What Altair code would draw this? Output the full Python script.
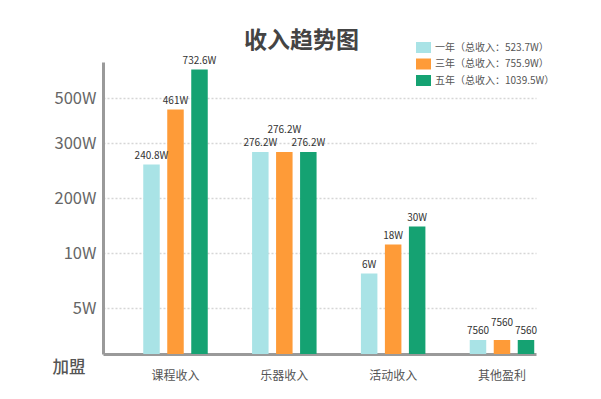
import altair as alt
import pandas as pd

FONT = "Noto Sans CJK SC"

categories = ["课程收入", "乐器收入", "活动收入", "其他盈利"]
series = ["一年", "三年", "五年"]
series_totals = ["523.7W", "755.9W", "1039.5W"]
colors = ["#A9E3E6", "#FE9B38", "#15A272"]

# text shown above each bar
labels_1 = ["240.8W", "276.2W", "6W", "7560"]
labels_3 = ["461W", "276.2W", "18W", "7560"]
labels_5 = ["732.6W", "276.2W", "30W", "7560"]

# bar heights read on the chart's own (non-linear) vertical axis
heights_1 = [189.5, 202, 80.5, 14]
heights_3 = [244.5, 202, 109.5, 14]
heights_5 = [284.5, 202, 127.5, 14]

# vertical axis ticks (position on the same axis) and their labels
tick_values = [0, 46, 101, 156, 211, 256]
tick_labels = ["加盟", "5W", "10W", "200W", "300W", "500W"]

legend_names = [f"{s}（总收入：{t}）" for s, t in zip(series, series_totals)]

rows = []
for s, ln, labs, hs in zip(series, legend_names,
                           [labels_1, labels_3, labels_5],
                           [heights_1, heights_3, heights_5]):
    for c, lab, h in zip(categories, labs, hs):
        rows.append({"cat": c, "series": s, "legend": ln, "lab": lab, "h": h})
df = pd.DataFrame(rows)

label_expr = " : ".join(
    f"datum.value === {v} ? '{t}'" for v, t in zip(tick_values, tick_labels)
) + " : ''"

x_scale = alt.Scale(paddingInner=0.4073, paddingOuter=0.193, align=0.958)
x_axis = alt.Axis(title=None, labelAngle=0, ticks=False, domainColor="#9a9a9a",
                  domainWidth=3, labelFontSize=12, labelColor="#555",
                  labelPadding=16, labelFont=FONT, grid=False)
x_off_scale = alt.Scale(paddingInner=0.3125, paddingOuter=0)

is_zero = "datum.value === 0"
y_axis = alt.Axis(
    title=None, values=tick_values, labelExpr=label_expr, ticks=False,
    domainColor="#9a9a9a", domainWidth=3,
    grid=True, gridColor="#d6d6d6", gridDash=[2, 2], gridWidth=1.5,
    gridOpacity={"condition": {"test": is_zero, "value": 0}, "value": 1},
    labelFont=FONT, labelFontSize=16.5,
    labelColor={"condition": {"test": is_zero, "value": "#555"}, "value": "#666"},
    labelFontWeight={"condition": {"test": is_zero, "value": 500}, "value": "normal"},
    labelPadding={"condition": {"test": is_zero, "value": 18}, "value": 7},
    labelOffset={"condition": {"test": is_zero, "value": 13}, "value": 0},
    labelOverlap=False,
)
y_scale = alt.Scale(domain=[0, 292], nice=False, zero=True)

bars = alt.Chart(df).mark_bar().encode(
    x=alt.X("cat:N", sort=categories, scale=x_scale, axis=x_axis),
    xOffset=alt.XOffset("series:N", sort=series, scale=x_off_scale),
    y=alt.Y("h:Q", scale=y_scale, axis=y_axis),
    color=alt.Color(
        "legend:N",
        scale=alt.Scale(domain=legend_names, range=colors),
        legend=alt.Legend(
            title=None, orient="none", legendX=313, legendY=-22,
            symbolType="M-1,-0.733H1V0.733H-1Z", symbolSize=225,
            symbolStrokeWidth=0, symbolOpacity=1,
            labelFont=FONT, labelFontSize=10, labelColor="#555",
            labelOffset=4, rowPadding=3.5, padding=0,
        ),
    ),
)

text = alt.Chart(df).transform_calculate(
    ly="datum.h + (datum.series === '三年' && datum.cat === '乐器收入' ? 13 : "
       "(datum.series === '三年' && datum.cat === '其他盈利' ? 8 : 0))"
).mark_text(baseline="bottom", dy=-4, fontSize=10, color="#333", font=FONT).encode(
    x=alt.X("cat:N", sort=categories, scale=x_scale, axis=x_axis),
    xOffset=alt.XOffset("series:N", sort=series, scale=x_off_scale),
    y=alt.Y("ly:Q", scale=y_scale, axis=y_axis),
    text="lab:N",
)

chart = alt.layer(bars, text).properties(
    width=433,
    height=292,
    title=alt.TitleParams(
        "收入趋势图", fontSize=23, fontWeight="bold", color="#444", font=FONT,
        anchor="middle", frame="group", dx=-18, offset=-13,
    ),
    autosize=alt.AutoSizeParams(type="none"),
    padding={"left": 95, "top": 54, "right": 57, "bottom": 37},
    background="white",
).configure_view(stroke=None)

chart.save("out.html", embed_options={"renderer": "svg", "actions": False})
